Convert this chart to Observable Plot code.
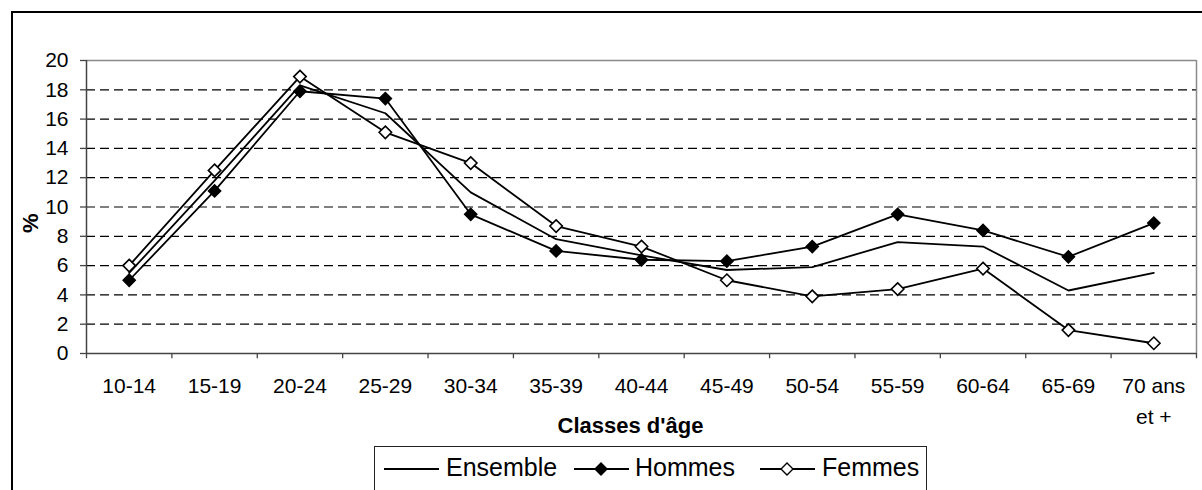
<!DOCTYPE html>
<html>
<head>
<meta charset="utf-8">
<script src="https://cdn.jsdelivr.net/npm/d3@7"></script>
<script src="https://cdn.jsdelivr.net/npm/@observablehq/plot@0.6"></script>
<style>
  html, body { margin: 0; padding: 0; background: #fff; overflow: hidden; }
  body { width: 1202px; height: 490px; position: relative; font-family: "Liberation Sans", Arial, sans-serif; }
  #frame { position: absolute; left: 11px; top: 11px; width: 1300px; height: 600px; border: 2px solid #000; box-sizing: border-box; }
  #chart { position: absolute; left: 0; top: 0; }
  #legend { position: absolute; left: 374px; top: 446px; width: 553px; height: 80px; border: 1.5px solid #222; box-sizing: border-box; }
  .lg { position: absolute; font-size: 25px; color: #000; top: 5px; line-height: 30px; }
  .ls { position: absolute; top: 12px; }
</style>
</head>
<body>
<div id="frame"></div>
<div id="chart"></div>
<div id="legend"></div>
<script>
const categories = ["10-14", "15-19", "20-24", "25-29", "30-34", "35-39", "40-44", "45-49", "50-54", "55-59", "60-64", "65-69", "70 ans\net +"];
const ensemble = [5.5, 11.8, 18.3, 16.4, 11.0, 7.8, 6.7, 5.7, 5.9, 7.6, 7.3, 4.3, 5.5];
const hommes   = [5.0, 11.1, 17.9, 17.4, 9.5, 7.0, 6.4, 6.3, 7.3, 9.5, 8.4, 6.6, 8.9];
const femmes   = [6.0, 12.5, 18.9, 15.1, 13.0, 8.7, 7.3, 5.0, 3.9, 4.4, 5.8, 1.6, 0.7];
const yTicks = [0, 2, 4, 6, 8, 10, 12, 14, 16, 18, 20];
const seriesNames = ["Ensemble", "Hommes", "Femmes"];

const idx = categories.map((_, i) => i);
const toRows = vals => vals.map((v, i) => ({i, v}));
const rowsE = toRows(ensemble), rowsH = toRows(hommes), rowsF = toRows(femmes);
const bounds = d3.range(-0.5, categories.length, 1);
const grid = yTicks.filter(t => t > 0 && t < 20);

const plot = Plot.plot({
  width: 1202,
  height: 490,
  marginLeft: 86,
  marginRight: 6,
  marginTop: 60,
  marginBottom: 137,
  style: {fontFamily: "'Liberation Sans', Arial, sans-serif", fontSize: "21px", background: "transparent", color: "#000"},
  x: {type: "linear", domain: [-0.5, categories.length - 0.5], axis: null},
  y: {domain: [0, 20], axis: null},
  marks: [
    Plot.ruleY(grid, {stroke: "#000", strokeWidth: 1.2, strokeDasharray: "9,5"}),
    Plot.ruleY([20], {stroke: "#8a8a8a", strokeWidth: 1.5}),
    Plot.ruleX([categories.length - 0.5], {stroke: "#8a8a8a", strokeWidth: 1.5}),
    Plot.ruleX(bounds, {x: d => d, y1: 0, y2: -0.36, stroke: "#444", strokeWidth: 1.3}),
    Plot.ruleX([-0.5], {stroke: "#444", strokeWidth: 1.5}),
    Plot.ruleY([0], {stroke: "#444", strokeWidth: 1.5}),
    Plot.axisY(yTicks, {anchor: "left", tickSize: 6, tickPadding: 12, fontSize: 21, stroke: "#444", strokeWidth: 1.3, label: null}),
    Plot.axisX(idx, {anchor: "bottom", tickSize: 0, tickPadding: 18, fontSize: 21, lineHeight: 1.45, tickFormat: i => categories[i], label: null}),
    Plot.text(["%"], {frameAnchor: "left", dx: -56, dy: 26, rotate: -90, fontWeight: "bold", fontSize: 22}),
    Plot.text(["Classes d'âge"], {frameAnchor: "bottom", dx: -11, dy: 79, fontWeight: "bold", fontSize: 22, letterSpacing: "1px"}),
    Plot.line(rowsE, {x: "i", y: "v", stroke: "#000", strokeWidth: 1.8}),
    Plot.line(rowsH, {x: "i", y: "v", stroke: "#000", strokeWidth: 1.8}),
    Plot.line(rowsF, {x: "i", y: "v", stroke: "#000", strokeWidth: 1.8}),
    Plot.dot(rowsH, {x: "i", y: "v", symbol: "diamond2", r: 5.6, fill: "#000", stroke: "#000", strokeWidth: 1.3}),
    Plot.dot(rowsF, {x: "i", y: "v", symbol: "diamond2", r: 5.6, fill: "#fff", stroke: "#000", strokeWidth: 1.6})
  ]
});
document.getElementById("chart").appendChild(plot);

// Legend
const legend = document.getElementById("legend");
const items = [
  {name: seriesNames[0], fill: null, sx: 8, tx: 71},
  {name: seriesNames[1], fill: "#000", sx: 198, tx: 260},
  {name: seriesNames[2], fill: "#fff", sx: 384, tx: 447}
];
for (const it of items) {
  const svg = d3.create("svg").attr("class", "ls").attr("width", 58).attr("height", 20)
    .style("left", it.sx + "px");
  svg.append("line").attr("x1", 1).attr("x2", 56).attr("y1", 10).attr("y2", 10)
    .attr("stroke", "#000").attr("stroke-width", 1.8);
  if (it.fill) {
    svg.append("path").attr("d", "M28,4L34,10L28,16L22,10Z")
      .attr("fill", it.fill).attr("stroke", "#000").attr("stroke-width", 1.4);
  }
  legend.appendChild(svg.node());
  const t = document.createElement("span");
  t.className = "lg";
  t.style.left = it.tx + "px";
  t.textContent = it.name;
  legend.appendChild(t);
}
</script>
</body>
</html>
